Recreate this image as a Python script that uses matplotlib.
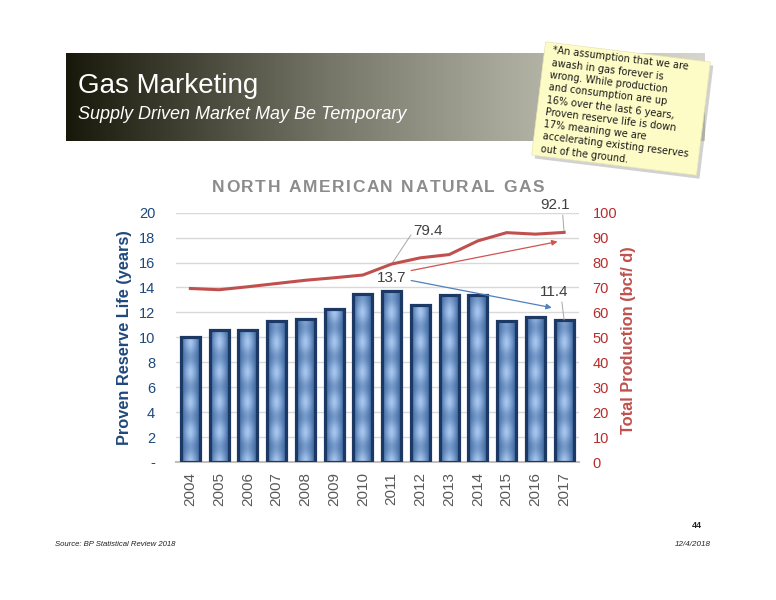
import matplotlib.pyplot as plt
import matplotlib.patches as mpatches
from matplotlib.colors import LinearSegmentedColormap
import numpy as np

plt.rcParams['font.family'] = ['Liberation Sans', 'DejaVu Sans']

# data
years = ['2004', '2005', '2006', '2007', '2008', '2009', '2010',
         '2011', '2012', '2013', '2014', '2015', '2016', '2017']
reserve_life = [10.0, 10.6, 10.6, 11.3, 11.5, 12.3, 13.5,
                13.7, 12.6, 13.4, 13.4, 11.3, 11.6, 11.4]
production = [69.6, 69.1, 70.3, 71.6, 72.9, 73.9, 75.0,
              79.4, 81.9, 83.2, 88.7, 92.0, 91.4, 92.1]
left_ticks = [0, 2, 4, 6, 8, 10, 12, 14, 16, 18, 20]
left_tick_labels = ['-', '2', '4', '6', '8', '10', '12', '14', '16', '18', '20']
right_ticks = [0, 10, 20, 30, 40, 50, 60, 70, 80, 90, 100]

chart_title = 'NORTH AMERICAN NATURAL GAS'
note_text = ("*An assumption that we are\n"
             "awash in gas forever is\n"
             "wrong. While production\n"
             "and consumption are up\n"
             "16% over the last 6 years,\n"
             "Proven reserve life is down\n"
             "17% meaning we are\n"
             "accelerating existing reserves\n"
             "out of the ground.")

BLUE = '#1f497d'
RED = '#c0504d'
DARKRED = '#b82c2c'
GRAY = '#595959'

fig = plt.figure(figsize=(7.76, 6.0), dpi=100)
W, H = 776.0, 600.0


def fx(px):
    return px / W


def fy(py):
    return 1 - py / H


def tracked_text(cx, cy, s, track_px, **kw):
    # draw text one letter at a time with extra spacing, centred on cx (pixels)
    r = fig.canvas.get_renderer()
    widths = []
    for ch in s:
        t = fig.text(0, 0, ch if ch != ' ' else 'n', **kw)
        w = t.get_window_extent(r).width
        if ch == ' ':
            w *= 0.5
        widths.append(w)
        t.remove()
    total = sum(widths) + track_px * (len(s) - 1)
    pos = cx - total / 2
    for ch, w in zip(s, widths):
        if ch != ' ':
            fig.text(fx(pos), fy(cy), ch, ha='left', va='center', **kw)
        pos += w + track_px


# ---- header banner with gradient ----
bax = fig.add_axes([fx(66), fy(141), fx(705) - fx(66), (141 - 52.7) / H], zorder=0)
banner_cmap = LinearSegmentedColormap.from_list(
    'banner', [(0.0, '#18180b'), (0.21, '#48483a'), (0.41, '#757568'),
               (0.67, '#a6a698'), (1.0, '#d6d6ce')])
bax.imshow(np.linspace(0, 1, 400).reshape(1, -1), cmap=banner_cmap,
           aspect='auto', extent=[0, 1, 0, 1])
bax.set_axis_off()

fig.text(fx(78), fy(93), 'Gas Marketing', color='white', fontsize=20,
         va='baseline', ha='left')
fig.text(fx(78), fy(119), 'Supply Driven Market May Be Temporary',
         color='white', fontsize=13, style='italic', va='baseline', ha='left')

# ---- main chart ----
ax = fig.add_axes([fx(176), fy(462), fx(578.5) - fx(176), (462 - 212.7) / H], zorder=1)
ax2 = ax.twinx()
x = np.arange(len(years))
bar_w = 0.66

ax.set_yticks(left_ticks)
ax.set_yticklabels(left_tick_labels)
ax2.set_yticks(right_ticks)
ax.yaxis.grid(True, color='#d9d9d9', linewidth=1)
ax.set_axisbelow(True)

for a in (ax, ax2):
    for s in ('top', 'left', 'right', 'bottom'):
        a.spines[s].set_visible(False)
ax.spines['bottom'].set_visible(True)
ax.spines['bottom'].set_color('#bfbfbf')
ax.spines['bottom'].set_linewidth(1.5)

ax.tick_params(axis='y', length=0, pad=15, labelsize=10.5, labelcolor=BLUE)
ax2.tick_params(axis='y', length=0, pad=10, labelsize=10.5, labelcolor=DARKRED)
ax.set_xticks(x)
ax.set_xticklabels(years, rotation=90)
ax.tick_params(axis='x', length=0, pad=7, labelsize=11, labelcolor=GRAY)

# bars with a shaded, striped fill
bars = ax.bar(x, reserve_life, width=bar_w, color='none',
              edgecolor='#1c3864', linewidth=2.3, zorder=3)
c_edge = np.array([0x3a, 0x64, 0x9c]) / 255.0
c_mid = np.array([0xa8, 0xc7, 0xf0]) / 255.0
for rect in bars:
    h = rect.get_height()
    x0 = rect.get_x()
    nrows = max(int(h * 25), 2)
    u = np.linspace(-1, 1, 40)
    yv = np.linspace(h, 0, nrows)
    prof = 1 - np.abs(u) ** 1.4
    stripe = 0.5 + 0.5 * np.cos(2 * np.pi * yv / 2.4)
    tone = np.clip(prof[None, :] * (0.55 + 0.45 * stripe[:, None]), 0, 1)
    img = c_edge[None, None, :] + (c_mid - c_edge)[None, None, :] * tone[:, :, None]
    im = ax.imshow(img, extent=[x0, x0 + bar_w, 0, h], aspect='auto',
                   zorder=2, interpolation='bilinear')
    im.set_clip_path(rect)
ax.set_xlim(-0.5, len(years) - 0.5)
ax.set_ylim(0, 20)
ax2.set_ylim(0, 100)

ax2.plot(x, production, color=RED, linewidth=2.2, zorder=4)

# value labels
lead = dict(arrowstyle='-', color='#a6a6a6', lw=0.7, shrinkA=0, shrinkB=0)
i11, i17 = years.index('2011'), years.index('2017')
ax2.annotate(f'{production[i11]:.1f}', xy=(x[i11], production[i11]),
             xytext=(26.5, 24), textcoords='offset points', fontsize=11,
             color='#404040', ha='center', va='center',
             arrowprops=dict(lead, relpos=(0, 0.5)))
ax2.annotate(f'{production[i17]:.1f}', xy=(x[i17], production[i17]),
             xytext=(-6.5, 19.5), textcoords='offset points', fontsize=11,
             color='#404040', ha='center', va='center',
             arrowprops=dict(lead, relpos=(0.75, 0)))
ax.annotate(f'{reserve_life[i17]:.1f}', xy=(x[i17], reserve_life[i17]),
            xytext=(-7, 20), textcoords='offset points', fontsize=11,
            color='#404040', ha='center', va='center',
            arrowprops=dict(lead, relpos=(0.75, 0)))
ax.annotate(f'{reserve_life[i11]:.1f}', xy=(x[i11], reserve_life[i11]),
            xytext=(0, 9.5), textcoords='offset points', fontsize=11,
            color='#404040', ha='center', va='center')

# trend arrows
ax2.annotate('', xy=(i17 - 0.23, 88.4), xytext=(i11 + 0.68, 76.8),
             arrowprops=dict(arrowstyle='-|>', color='#d0534f', lw=0.9,
                             mutation_scale=8, shrinkA=0, shrinkB=0))
ax.annotate('', xy=(i17 - 0.43, 12.38), xytext=(i11 + 0.68, 14.56),
            arrowprops=dict(arrowstyle='-|>', color='#4f81bd', lw=0.9,
                            mutation_scale=8, shrinkA=0, shrinkB=0))

tracked_text(378, 188, chart_title, 1.6, color='#8c8c8c', fontsize=12.5,
             fontweight='bold')
fig.text(fx(125), fy(338), 'Proven Reserve Life (years)', color=BLUE,
         fontsize=11.8, fontweight='bold', rotation=90, ha='center', va='center')
fig.text(fx(628), fy(340), 'Total Production (bcf/ d)', color=RED,
         fontsize=11.8, fontweight='bold', rotation=90, ha='center', va='center')

# ---- sticky note ----
shadow = mpatches.Rectangle((5.317 + 0.03, 4.45 - 0.035), 1.66, 1.14, angle=-7,
                            transform=fig.dpi_scale_trans, facecolor='#000000',
                            alpha=0.18, edgecolor='none', zorder=9)
note = mpatches.Rectangle((5.317, 4.45), 1.66, 1.14, angle=-7,
                          transform=fig.dpi_scale_trans, facecolor='#fdfbc6',
                          edgecolor='#e8e6b0', linewidth=0.5, zorder=10)
fig.add_artist(shadow)
fig.add_artist(note)
fig.text(fx(620), fy(108.5), note_text, fontsize=7.0, color='#1a1a1a',
         family=['DejaVu Sans'], rotation=-7, rotation_mode='anchor',
         ha='center', va='center', multialignment='left', linespacing=1.3,
         zorder=11)

# ---- footer ----
fig.text(fx(55), fy(544), 'Source: BP Statistical Review 2018', fontsize=5.6,
         style='italic', color='#222222', ha='left', va='center')
fig.text(fx(711), fy(544), '12/4/2018', fontsize=5.8, style='italic',
         color='#222222', ha='right', va='center')
fig.text(fx(697), fy(526), '44', fontsize=6.5, fontweight='bold',
         color='#222222', ha='center', va='center')

fig.savefig('out.png', dpi=100)
